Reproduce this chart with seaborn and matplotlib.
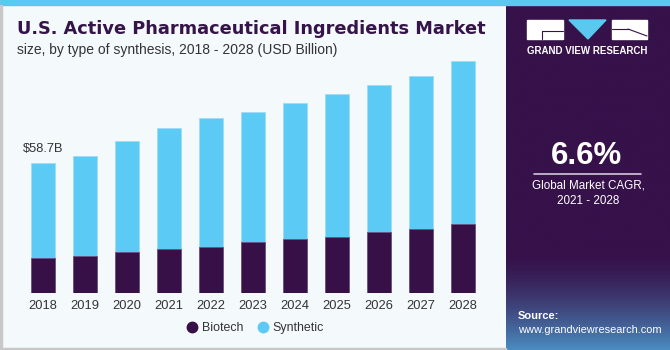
import matplotlib
matplotlib.use("Agg")
import matplotlib.pyplot as plt
import seaborn as sns
import numpy as np
import pandas as pd
from matplotlib.patches import Rectangle, Polygon
from matplotlib.lines import Line2D

years = ["2018", "2019", "2020", "2021", "2022", "2023", "2024", "2025", "2026", "2027", "2028"]
biotech = [15.9, 16.6, 18.4, 19.9, 20.9, 22.9, 24.4, 25.4, 27.7, 28.9, 31.0]
synthetic = [42.8, 45.3, 50.2, 54.4, 57.9, 58.5, 61.3, 64.2, 66.1, 68.8, 73.4]
first_label = "$58.7B"

BIO = "#371047"
SYN = "#5BCBF5"
BG = "#F4F9FC"
PANEL = "#36114A"

sns.set_theme(style="white")
plt.rcParams['font.family'] = ['Liberation Sans', 'DejaVu Sans']

W, H = 670, 350
fig = plt.figure(figsize=(W / 100, H / 100), dpi=100, facecolor=BG)

def fx(px):
    return px / W

def fy(py):
    return 1 - py / H

df = pd.DataFrame({"year": years, "biotech": biotech, "synthetic": synthetic})
df["total"] = df["biotech"] + df["synthetic"]

# main axes
ax_left, ax_right = 0, 500
base_px, top_px = 293.3, 55
ax = fig.add_axes([fx(ax_left), fy(base_px), fx(ax_right - ax_left), (base_px - top_px) / H])
ax.set_facecolor(BG)
sns.barplot(data=df, x="year", y="total", color=SYN, saturation=1, width=0.57,
            ax=ax, edgecolor="#9fdcf5", linewidth=0.6)
sns.barplot(data=df, x="year", y="biotech", color=BIO, saturation=1, width=0.57,
            ax=ax, edgecolor="#6a5480", linewidth=0.6)
ax.set_xlim(-43 / 42, (ax_right - 43) / 42)
ax.set_ylim(0, (base_px - top_px) * 58.7 / 130.6)
ax.set_xlabel("")
ax.set_ylabel("")
ax.set_yticks([])
for s in ax.spines.values():
    s.set_visible(False)
ax.tick_params(axis="x", length=0, pad=5, labelsize=9.3, labelcolor="#333333")
ax.text(0, df["total"][0] + 3.6, first_label, ha="center", va="bottom", fontsize=9.3, color="#333333")

# top stripe
fig.patches.append(Rectangle((0, fy(4.5)), 1, 4.5 / H, transform=fig.transFigure, color="#5BC8F0", zorder=5))
# left and bottom grey border
fig.patches.append(Rectangle((0, 0), fx(1.5), fy(4.5), transform=fig.transFigure, color="#c8c8c8", zorder=5))
fig.patches.append(Rectangle((0, 0), fx(506), 2 / H, transform=fig.transFigure, color="#c8c8c8", zorder=5))

# right panel with gradient
pax = fig.add_axes([fx(506), 0, fx(W - 506), fy(4.5)])
pax.set_xlim(0, 1)
pax.set_ylim(0, 1)
pax.axis("off")
n = 200
top_c = np.array(matplotlib.colors.to_rgb(PANEL))
bot_c = np.array(matplotlib.colors.to_rgb("#4a8cc0"))
grad = np.zeros((n, 1, 3))
for i in range(n):
    t = i / (n - 1)  # 0 at top
    start = 0.72
    if t < start:
        c = top_c
    else:
        k = ((t - start) / (1 - start)) ** 1.5
        c = top_c * (1 - k) + bot_c * k
    grad[i, 0] = c
pax.imshow(grad, aspect="auto", extent=[0, 1, 0, 1], zorder=0)

# logo
def prect(x0, y0, x1, y1, color="white"):
    fig.patches.append(Rectangle((fx(x0), fy(y1)), fx(x1 - x0), (y1 - y0) / H,
                                 transform=fig.transFigure, color=color, zorder=6))
prect(527, 20, 563, 39)
prect(612, 20, 647, 39)
fig.patches.append(Polygon([(fx(569), fy(20)), (fx(606), fy(20)), (fx(588), fy(39))],
                           closed=True, transform=fig.transFigure, color="#5BC8F0", zorder=6))
fig.lines.append(Line2D([fx(542), fx(563)], [fy(31), fy(31)], transform=fig.transFigure, color=PANEL, lw=0.8, zorder=7))
fig.lines.append(Line2D([fx(542), fx(542)], [fy(31), fy(39)], transform=fig.transFigure, color=PANEL, lw=0.8, zorder=7))
fig.lines.append(Line2D([fx(612), fx(628)], [fy(29), fy(29)], transform=fig.transFigure, color=PANEL, lw=0.8, zorder=7))
fig.lines.append(Line2D([fx(628), fx(647)], [fy(29), fy(36)], transform=fig.transFigure, color=PANEL, lw=0.8, zorder=7))
fig.text(fx(587), fy(51), "GRAND VIEW RESEARCH", ha="center", va="center", color="white",
         fontsize=7.0, fontweight="bold", zorder=8)

fig.text(fx(587), fy(156), "6.6%", ha="center", va="center", color="white",
         fontsize=22.5, fontweight="bold", zorder=8)
fig.lines.append(Line2D([fx(534), fx(641)], [fy(173.5), fy(173.5)], transform=fig.transFigure,
                        color="#d0c8d8", lw=1.2, zorder=8))
fig.text(fx(588), fy(185.5), "Global Market CAGR,", ha="center", va="center", color="white", fontsize=8.4, zorder=8)
fig.text(fx(588), fy(201), "2021 - 2028", ha="center", va="center", color="white", fontsize=8.4, zorder=8)
fig.text(fx(518), fy(316), "Source:", ha="left", va="center", color="white", fontsize=8.0, fontweight="bold", zorder=8)
fig.text(fx(518), fy(330), "www.grandviewresearch.com", ha="left", va="center", color="white", fontsize=7.9, zorder=8)

# titles
fig.text(fx(17), fy(34.5), "U.S. Active Pharmaceutical Ingredients Market", ha="left", va="baseline",
         color="#35144A", fontsize=12.8, fontweight="bold", family=["DejaVu Sans"])
fig.text(fx(17), fy(54), "size, by type of synthesis, 2018 - 2028 (USD Billion)", ha="left", va="baseline",
         color="#333333", fontsize=10.0)

# legend
handles = [Line2D([0], [0], marker="o", color="none", markerfacecolor=BIO, markeredgecolor=BIO, markersize=7.5, label="Biotech"),
           Line2D([0], [0], marker="o", color="none", markerfacecolor=SYN, markeredgecolor=SYN, markersize=7.5, label="Synthetic")]
fig.legend(handles=handles, loc="center", bbox_to_anchor=(fx(254), fy(328)), ncol=2, frameon=False,
           fontsize=8.9, handletextpad=0.15, columnspacing=1.0, handlelength=1.2, labelcolor="#333333")

fig.savefig("out.png", dpi=100, facecolor=BG)
